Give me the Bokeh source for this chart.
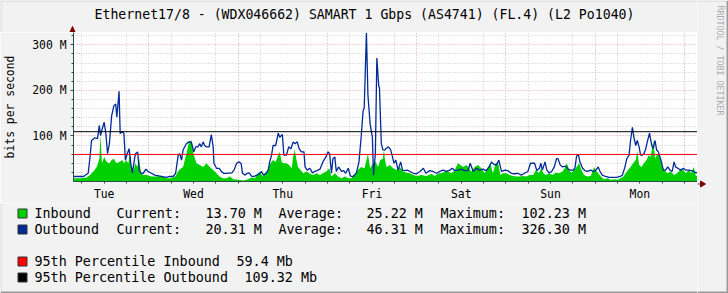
from bokeh.plotting import figure
from bokeh.layouts import row, column
from bokeh.models import Range1d, FixedTicker, Span, Label
from bokeh.embed import file_html
from bokeh.resources import INLINE

# ---------------- data (hours since Tue 00:00, Mbit/s) ----------------
in_hours = [3.9, 5.5, 7.3, 8.2, 9.1, 10.0, 10.7, 11.0, 11.4, 12.0, 12.7, 13.4, 14.0, 14.6,
            15.3, 16.1, 16.8, 17.4, 17.8, 18.5, 18.9, 19.4, 19.8, 20.4, 20.9, 21.4, 21.9,
            22.5, 23.4, 24.7, 26.1, 27.4, 28.7, 30.1, 31.2, 32.1, 33.2, 34.1, 34.8, 35.4,
            36.1, 36.8, 37.7, 38.6, 39.5, 40.4, 41.3, 42.2, 43.0, 43.9,
            44.9, 45.8, 46.7, 48.1, 49.4, 50.3, 51.6, 52.5, 53.4, 53.9, 54.6, 55.5, 56.1,
            56.7, 57.4, 58.1, 58.8, 59.2, 59.7, 60.3, 61.0, 61.7, 62.4, 62.8, 63.2, 63.7,
            64.1, 64.8, 65.5, 66.4, 67.3, 68.2, 69.1, 70.0, 70.8, 71.7, 72.5, 73.1, 74.0,
            74.9, 75.8, 76.7, 77.6, 78.4, 79.3, 80.2, 81.1, 82.0, 82.9, 83.5, 84.3, 85.0,
            85.6, 86.2, 86.9,
            87.2, 87.5, 87.9, 88.8, 89.7, 90.6, 91.5, 92.4, 93.3, 94.2, 95.1, 96.0, 97.3,
            98.6, 100.0, 100.9, 101.8, 102.7, 103.6, 104.5, 105.3, 106.2, 107.1, 107.8,
            108.5, 109.4, 110.1, 110.7, 111.6, 112.5, 113.4, 114.3, 115.2, 115.8, 116.5,
            117.2, 117.9, 118.5, 119.2, 120.1, 121.0, 121.9, 122.8, 123.7, 124.6, 125.5,
            126.4, 127.3, 128.1, 128.9,
            129.4, 130.1, 130.7, 131.6, 132.5, 133.4, 134.3, 135.2, 135.8, 136.4, 137.0,
            137.6, 138.3, 139.0, 139.7, 140.3, 141.0, 141.9, 142.8, 143.7, 144.1, 144.8,
            145.5, 146.4, 147.3, 148.2, 149.1, 150.0, 150.8, 151.6, 152.2, 152.8, 153.5,
            154.2, 154.9, 155.3, 155.8, 156.4, 157.1, 157.8, 158.4, 158.9, 159.6, 160.1,
            160.7, 161.1, 161.6, 162.0, 162.6, 163.4, 164.3, 165.2, 166.0, 166.9, 167.6,
            168.3, 169.2, 169.8, 170.5, 171.1, 171.4]
in_mbps = [7, 7, 9, 14, 22, 32, 50, 102.23, 40, 54, 43, 40, 47, 50,
           40, 43, 47, 40, 47, 40, 65, 25, 22, 40, 32, 50, 18,
           14, 14, 11, 11, 12, 7, 7, 12, 25, 32, 61, 87, 90,
           58, 40, 36, 32, 40, 32, 25, 18, 11, 7,
           7, 11, 5, 4, 2, 4, 9, 7, 18, 22, 11, 18, 29,
           40, 47, 43, 58, 65, 43, 40, 40, 36, 29, 54, 70, 47,
           32, 25, 18, 22, 17, 14, 18, 14, 18, 22, 29, 11, 18,
           11, 7, 11, 7, 7, 14, 25, 32, 29, 61, 29, 40, 43,
           32, 47, 50,
           69, 47, 32, 36, 29, 25, 32, 22, 19, 18, 14, 12, 14,
           12, 17, 12, 18, 18, 22, 22, 18, 24, 40, 36,
           32, 36, 29, 22, 32, 36, 29, 18, 32, 40, 18,
           40, 41, 14, 18, 18, 14, 12, 11, 11, 12, 11,
           14, 14, 25, 18,
           29, 18, 14, 18, 14, 19, 18, 22, 29, 40, 25,
           19, 25, 32, 40, 25, 14, 11, 12, 32, 25, 18,
           11, 5, 7, 4, 5, 4, 7, 11, 18, 25, 32,
           40, 47, 67, 36, 32, 40, 47, 58, 54, 90, 50,
           61, 61, 47, 32, 25, 18, 22, 14, 18, 25, 27,
           18, 25, 18, 32, 11, 13.7]

out_hours = [3.9, 6.4, 6.8, 7.7, 8.2, 8.6, 9.5, 10.2, 10.7, 11.0, 11.6, 12.0, 12.5, 12.9,
             13.4, 14.0, 14.6, 15.1, 15.4, 16.0, 16.3, 16.9, 17.3, 17.7, 18.2, 18.7, 19.2,
             19.6, 20.1, 20.4, 21.0, 21.4, 22.0, 22.5, 23.2, 23.8, 24.7, 25.6, 27.0, 28.7,
             29.6, 30.5, 31.2, 31.9, 32.3, 32.8, 33.2, 34.1, 34.8, 35.4, 36.1, 36.6, 37.2,
             37.7, 38.1, 38.6, 39.0, 39.5, 40.2, 40.8, 41.3, 41.5, 42.2, 42.9, 43.5, 44.1,
             44.8,
             46.3, 46.9, 47.6, 48.2, 48.8, 49.2, 49.8, 50.5, 51.0, 51.6, 52.3, 53.0, 53.9,
             54.3, 54.8, 55.5, 56.1, 56.5, 57.0, 57.4, 58.1, 58.8, 59.2, 59.9, 60.3, 61.0,
             61.6, 62.2, 62.8, 63.3, 63.9, 64.4, 65.0, 65.7, 66.0, 66.6, 67.3, 68.0, 68.6,
             69.2, 70.0, 70.8, 71.6, 72.2, 72.6, 73.1, 73.5, 74.0, 74.4, 75.0, 75.8, 76.4,
             76.9, 77.6, 78.2, 78.9, 79.8, 80.5, 81.1, 81.6, 81.9, 82.5, 82.9, 83.5, 84.1,
             84.4, 84.9, 85.3, 85.8, 86.0, 86.5, 86.9,
             87.4, 87.7, 88.4, 89.0, 89.5, 89.9, 90.4, 91.0, 91.7, 92.2, 92.8, 93.5, 94.2,
             95.1, 96.0, 96.9, 97.8, 98.5, 99.5, 100.4, 101.3, 102.2, 103.1, 104.0, 104.9,
             105.6, 106.2, 107.1, 108.0, 108.9, 109.8, 110.4, 111.2, 112.1, 112.9, 113.8,
             114.7, 115.5, 116.1, 116.7, 117.4, 118.1, 118.8, 119.7, 120.5, 121.4, 122.3,
             123.2, 124.1, 125.0, 125.9, 126.6, 127.7, 128.3, 129.0,
             129.4, 129.8, 130.5, 131.0, 131.6, 132.3, 133.0, 133.6, 134.0, 134.6, 135.2,
             136.1, 136.7, 137.4, 138.2, 138.6, 139.0, 139.5, 139.9, 140.6, 141.2, 141.9,
             142.8, 143.5, 144.1, 144.8, 145.3, 145.9, 146.8, 147.7, 148.6, 149.8, 150.7,
             151.3, 151.9, 152.5, 153.1, 153.5, 154.0, 154.4, 154.9, 155.3, 155.8, 156.2,
             156.7, 157.1, 157.6, 158.0, 158.6, 159.2, 159.6, 160.1, 160.5, 161.0, 161.4,
             161.8, 162.3, 162.9, 163.5, 164.1, 164.7, 165.2, 165.6, 166.2, 166.9, 167.7,
             168.3, 169.2, 169.8, 170.5, 171.1, 171.4]
out_mbps = [11, 11, 13, 18, 54, 90, 96, 94, 123, 101, 119, 130, 101, 61,
            83, 144, 166, 170, 141, 198, 105, 110, 105, 47, 61, 72, 36,
            19, 47, 61, 65, 25, 18, 18, 27, 22, 18, 14, 12, 9,
            11, 11, 18, 58, 61, 47, 69, 83, 87, 87, 65, 76, 76,
            83, 76, 87, 79, 76, 76, 103, 76, 40, 29, 29, 22, 18,
            18,
            19, 25, 40, 43, 40, 18, 14, 18, 19, 12, 11, 14, 18,
            22, 14, 18, 25, 43, 58, 79, 79, 106, 97, 103, 58, 58,
            76, 72, 87, 83, 87, 72, 65, 65, 32, 25, 29, 19, 22,
            24, 27, 43, 54, 65, 61, 18, 50, 54, 22, 32, 22, 24,
            18, 29, 12, 11, 19, 43, 100, 155, 162, 326.3, 190, 126, 97,
            14, 61, 271, 209, 206, 83, 70,
            69, 72, 76, 70, 54, 40, 47, 25, 43, 25, 24, 25, 22,
            18, 17, 22, 29, 18, 24, 22, 18, 22, 25, 22, 25,
            29, 24, 25, 27, 24, 24, 40, 22, 29, 25, 27,
            24, 32, 43, 38, 36, 47, 22, 25, 24, 18, 17,
            18, 14, 18, 22, 40, 40, 24, 29,
            40, 25, 43, 25, 19, 22, 32, 50, 50, 36, 32,
            34, 27, 25, 25, 32, 56, 58, 43, 29, 24, 22,
            25, 22, 24, 32, 22, 14, 11, 9, 9, 9, 11,
            14, 29, 50, 58, 90, 119, 97, 79, 90, 76, 58,
            58, 61, 72, 87, 106, 79, 72, 90, 69, 65, 54,
            43, 25, 25, 32, 25, 22, 43, 32, 29, 25, 29,
            25, 25, 24, 22, 19, 20.31]

day_names = ["Tue", "Wed", "Thu", "Fri", "Sat", "Sun", "Mon"]
day_noon_hours = [12, 36, 60, 84, 108, 132, 156]
midnight_hours = [24, 48, 72, 96, 120, 144, 168]
six_hour_marks = [6, 18, 30, 42, 54, 66, 78, 90, 102, 114, 126, 138, 150, 162]
all_six_hour_ticks = [0, 6, 12, 18, 24, 30, 36, 42, 48, 54, 60, 66, 72, 78, 84, 90, 96,
                      102, 108, 114, 120, 126, 132, 138, 144, 150, 156, 162, 168]
y_major = [100, 200, 300]
y_major_labels = ["100 M", "200 M", "300 M"]
y_minor = [20, 40, 60, 80, 120, 140, 160, 180, 220, 240, 260, 280, 320]
y_minor_ticks = [20, 40, 60, 80, 100, 120, 140, 160, 180, 200, 220, 240, 260, 280, 300, 320]
pct95_in = 59.4
pct95_out = 109.32

title_text = "Ethernet17/8 - (WDX046662) SAMART 1 Gbps (AS4741) (FL.4) (L2 Po1040)"
watermark = "RRDTOOL / TOBI OETIKER"
legend_rows = [
    ("Inbound", "#00CF00", "13.70 M", "25.22 M", "102.23 M"),
    ("Outbound", "#002A97", "20.31 M", "46.31 M", "326.30 M"),
]
pct_rows = [
    ("95th Percentile Inbound", "#FF0000", "59.4 Mb"),
    ("95th Percentile Outbound", "#000000", "109.32 Mb"),
]

# ---------------- layout constants (canvas pixels) ----------------
W, H = 728, 293
FL, FT, FR, FB = 72, 32, 697, 183      # chart frame
MAIN_BOTTOM = 203                       # bottom of the strip holding the day labels
BG = "#F2F2F2"
MONO = "DejaVu Sans Mono"
AXIS_C = "#2C4D43"
ARROW_C = "#7F0000"
SHADE_A = "#D2D2D2"
SHADE_B = "#9A9A9A"


def panel(w, h):
    f = figure(width=w, height=h, output_backend="svg", toolbar_location=None,
               x_range=Range1d(0, w), y_range=Range1d(h, 0),
               min_border=0, x_axis_location=None, y_axis_location=None,
               background_fill_color=BG, border_fill_color=BG, outline_line_color=None,
               frame_align=False)
    f.grid.visible = False
    return f


def text(f, x, y, s, size="13.4px", align="left", color="#000000", angle=0.0):
    f.add_layout(Label(x=x, y=y, text=s, text_font=MONO, text_font_size=size,
                       text_align=align, text_baseline="middle", text_color=color,
                       angle=angle))


# ---------------- header (title, top arrow) ----------------
head = panel(FR, FT)
text(head, 364, 14, title_text, size="13.2px", align="center")
head.patch(x=[69.5, 74.5, 72], y=[31.5, 31.5, 26], fill_color=ARROW_C, line_color=ARROW_C)
head.quad(left=0, right=FR, top=0, bottom=1, fill_color=SHADE_A, line_color=None)
head.quad(left=0, right=1, top=0, bottom=FT, fill_color=SHADE_A, line_color=None)

# ---------------- main chart ----------------
p = figure(width=FR, height=MAIN_BOTTOM - FT, output_backend="svg", toolbar_location=None,
           x_range=Range1d(3.75, 171.5), y_range=Range1d(0, 327),
           min_border_left=FL, min_border_right=0, min_border_top=0,
           min_border_bottom=MAIN_BOTTOM - FB,
           background_fill_color="#FFFFFF", border_fill_color=BG,
           outline_line_color=None, frame_align=False)

p.xgrid.ticker = FixedTicker(ticks=midnight_hours, minor_ticks=six_hour_marks)
p.ygrid.ticker = FixedTicker(ticks=y_major, minor_ticks=y_minor)
for g in (p.xgrid[0], p.ygrid[0]):
    g.grid_line_color = "#E6A0A0"
    g.grid_line_dash = "1 2"
    g.grid_line_width = 1
    g.minor_grid_line_color = "#C8C8C8"
    g.minor_grid_line_dash = "1 2"
    g.minor_grid_line_width = 1

xa = p.xaxis[0]
ya = p.yaxis[0]
xa.ticker = FixedTicker(ticks=day_noon_hours, minor_ticks=all_six_hour_ticks)
xa.major_label_overrides = {h: n for h, n in zip(day_noon_hours, day_names)}
ya.ticker = FixedTicker(ticks=y_major, minor_ticks=y_minor_ticks)
ya.major_label_overrides = {v: s for v, s in zip(y_major, y_major_labels)}
for ax in (xa, ya):
    ax.axis_line_color = AXIS_C
    ax.axis_line_width = 1
    ax.major_tick_line_color = AXIS_C
    ax.minor_tick_line_color = AXIS_C
    ax.major_tick_in = 0
    ax.minor_tick_in = 0
    ax.minor_tick_out = 2
    ax.major_label_text_font = MONO
    ax.major_label_text_font_size = "11.4px"
    ax.major_label_text_color = "#000000"
xa.major_tick_out = 0
xa.major_label_standoff = 3
ya.major_tick_out = 3
ya.major_label_standoff = 4
ya.axis_label = "bits per second"
ya.axis_label_text_font = MONO
ya.axis_label_text_font_size = "11.4px"
ya.axis_label_text_font_style = "normal"
ya.axis_label_text_color = "#000000"
ya.axis_label_standoff = 12

p.varea(x=in_hours, y1=0, y2=in_mbps, fill_color="#00CF00")
p.line(out_hours, out_mbps, line_color="#002A97", line_width=1.3)
p.add_layout(Span(location=pct95_in, dimension="width", line_color="#FF0000", line_width=1))
p.add_layout(Span(location=pct95_out, dimension="width", line_color="#000000", line_width=1))

# ---------------- legend footer ----------------
foot_h = H - MAIN_BOTTOM
foot = panel(FR, foot_h)


def fy(y):
    return y - MAIN_BOTTOM


row_y = [213, 229]
for (name, col, cur, avg, mx), y in zip(legend_rows, row_y):
    foot.quad(left=17.5, right=26.5, top=fy(y) - 4.5, bottom=fy(y) + 4.5,
              fill_color=col, line_color="#333333", line_width=1)
    text(foot, 34, fy(y), name)
    text(foot, 116, fy(y), "Current:")
    text(foot, 205, fy(y), cur)
    text(foot, 278, fy(y), "Average:")
    text(foot, 366, fy(y), avg)
    text(foot, 440, fy(y), "Maximum:")
    text(foot, 521, fy(y), mx)
pct_y = [261, 277]
pct_x = [236, 244]
for (name, col, val), y, vx in zip(pct_rows, pct_y, pct_x):
    foot.quad(left=17.5, right=26.5, top=fy(y) - 4.5, bottom=fy(y) + 4.5,
              fill_color=col, line_color="#333333", line_width=1)
    text(foot, 34, fy(y), name)
    text(foot, vx, fy(y), val)
foot.quad(left=0, right=FR, top=foot_h - 2, bottom=foot_h, fill_color=SHADE_B, line_color=None)
foot.quad(left=0, right=1, top=0, bottom=foot_h - 2, fill_color=SHADE_A, line_color=None)

# ---------------- right strip (arrow, watermark, shading) ----------------
side_w = W - FR
side = panel(side_w, H)
side.line(x=[0, 3], y=[FB + 0.5, FB + 0.5], line_color=AXIS_C, line_width=1)
side.patch(x=[3, 3, 8], y=[FB - 2.5, FB + 3.5, FB + 0.5], fill_color=ARROW_C, line_color=ARROW_C)
text(side, 720 - FR, 5, watermark, size="8.3px", color="#AAAAAA", angle=-1.5708)
side.quad(left=0, right=side_w - 2, top=0, bottom=1, fill_color=SHADE_A, line_color=None)
side.quad(left=side_w - 2, right=side_w, top=0, bottom=H, fill_color=SHADE_B, line_color=None)
side.quad(left=0, right=side_w, top=H - 2, bottom=H, fill_color=SHADE_B, line_color=None)

layout = row(column(head, p, foot, spacing=0), side, spacing=0)
open("out.html", "w").write(file_html(layout, INLINE))
